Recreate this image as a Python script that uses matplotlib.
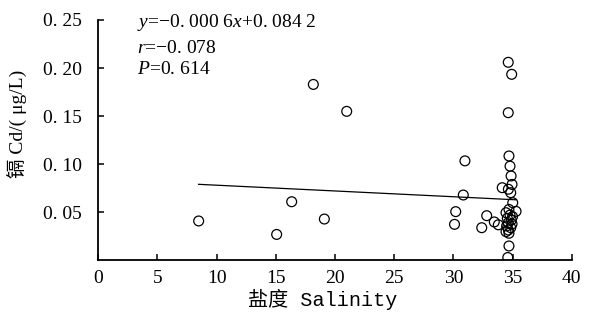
import matplotlib
matplotlib.use("Agg")
import matplotlib.pyplot as plt
import numpy as np

# Data
salinity = [8.48, 15.07, 16.34, 19.10, 18.17, 20.99,
            30.2, 30.1, 30.98, 30.84, 32.82, 32.40, 33.46, 33.80, 34.13,
            34.64, 34.93, 34.64, 34.70, 34.79, 34.88, 34.96, 34.65, 34.85,
            35.02, 34.70, 35.30, 34.45, 34.79, 35.00, 34.56, 34.90, 34.65,
            34.96, 34.50, 34.85, 34.65, 34.45, 34.70, 34.70, 34.60]
cd = [0.041, 0.027, 0.061, 0.043, 0.183, 0.155,
      0.0507, 0.0375, 0.1035, 0.068, 0.0465, 0.034, 0.040, 0.037, 0.0756,
      0.206, 0.1935, 0.1536, 0.1086, 0.098, 0.0878, 0.079, 0.074, 0.0704,
      0.060, 0.053, 0.051, 0.0496, 0.0472, 0.0455, 0.0438, 0.042, 0.0392,
      0.0379, 0.0358, 0.034, 0.0316, 0.0299, 0.0282, 0.015, 0.003]
slope = -0.0006
intercept = 0.0842
xticks = [0, 5, 10, 15, 20, 25, 30, 35, 40]
yticks = [0.05, 0.10, 0.15, 0.20, 0.25]
ytick_labels = ["0. 05", "0. 10", "0. 15", "0. 20", "0. 25"]

plt.rcParams['font.family'] = ['Liberation Serif', 'Noto Sans CJK SC']
plt.rcParams['mathtext.fontset'] = 'custom'
plt.rcParams['mathtext.it'] = 'Liberation Serif:italic'
plt.rcParams['mathtext.rm'] = 'Liberation Serif'

fig = plt.figure(figsize=(5.89, 3.21), dpi=100)
ax = fig.add_axes([0.1669, 0.1888, 0.8037, 0.7489])

ax.scatter(salinity, cd, s=50, facecolors='none', edgecolors='black', linewidths=0.9, zorder=3)
xl = np.array([min(salinity), max(salinity)])
ax.plot(xl, slope * xl + intercept, color='black', lw=0.9)

ax.set_xlim(0, 40)
ax.set_ylim(0, 0.25)
ax.set_xticks(xticks)
ax.set_yticks(yticks)
ax.set_yticklabels(ytick_labels)
for s in ['top', 'right']:
    ax.spines[s].set_visible(False)
for s in ['left', 'bottom']:
    ax.spines[s].set_linewidth(1.3)
ax.tick_params(direction='in', length=4, width=1.1, labelsize=14)
ax.tick_params(axis='y', pad=12)
ax.tick_params(axis='x', pad=7)

ax.set_xlabel('盐度 Salinity', fontsize=14.5, family=['Liberation Mono', 'Noto Sans CJK SC'])
ax.xaxis.set_label_coords(0.475, -0.12)
ax.set_ylabel('镉 Cd/( μg/L)', fontsize=14, family=['Liberation Serif', 'Noto Sans CJK SC'])
ax.yaxis.set_label_coords(-0.148, 0.567)

ax.text(0.082, 0.971, '$y$=−0. 000 6$x$+0. 084 2', transform=ax.transAxes, fontsize=14, va='baseline')
ax.text(0.082, 0.863, '$r$=−0. 078', transform=ax.transAxes, fontsize=14, va='baseline')
ax.text(0.082, 0.775, '$P$=0. 614', transform=ax.transAxes, fontsize=14, va='baseline')

fig.savefig('out.png', dpi=100)
